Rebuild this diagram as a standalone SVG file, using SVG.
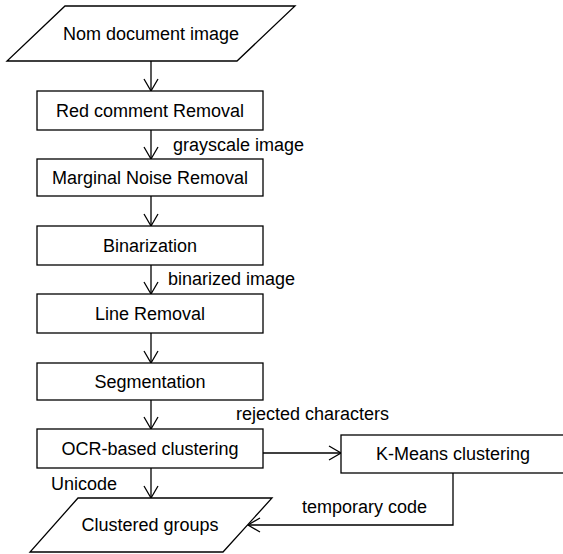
<svg xmlns="http://www.w3.org/2000/svg" width="563" height="554" viewBox="0 0 563 554">
<style>
.s{fill:#fff;stroke:#000;stroke-width:1.3}
.t{font-family:"Liberation Sans",Arial,sans-serif;font-size:18px;fill:#000}
.m{text-anchor:middle}
.c{fill:none;stroke:#000;stroke-width:1.3}
</style>
<defs>
<marker id="a" viewBox="-14 -8 16 16" refX="0" refY="0" markerWidth="16" markerHeight="16" markerUnits="userSpaceOnUse" orient="auto">
<path d="M-12,-7 L0,0 L-12,7" fill="none" stroke="#000" stroke-width="1.3"/>
</marker>
</defs>
<rect width="563" height="554" fill="#fff"/>
<g id="connectors">
<line class="c" x1="151" y1="61" x2="151" y2="91" marker-end="url(#a)"/>
<line class="c" x1="151" y1="130" x2="151" y2="159" marker-end="url(#a)"/>
<line class="c" x1="151" y1="196" x2="151" y2="226" marker-end="url(#a)"/>
<line class="c" x1="151" y1="265" x2="151" y2="294" marker-end="url(#a)"/>
<line class="c" x1="151" y1="333" x2="151" y2="363" marker-end="url(#a)"/>
<line class="c" x1="151" y1="400" x2="151" y2="429" marker-end="url(#a)"/>
<line class="c" x1="151" y1="468" x2="151" y2="498" marker-end="url(#a)"/>
<line class="c" x1="263" y1="453" x2="341" y2="453" marker-end="url(#a)"/>
<polyline class="c" points="453,473 453,525 248,525" marker-end="url(#a)"/>
<text class="t" x="173" y="151">grayscale image</text>
<text class="t" x="168" y="285">binarized image</text>
<text class="t" x="236" y="420">rejected characters</text>
<text class="t" x="51" y="490">Unicode</text>
<text class="t" x="302" y="513">temporary code</text>
</g>
<g id="input">
<polygon class="s" points="65,6 295,6 237,61 7,61"/>
<text class="t m" x="151" y="40">Nom document image</text>
</g>
<g id="red">
<rect class="s" x="37" y="91" width="226" height="39"/>
<text class="t m" x="150" y="117">Red comment Removal</text>
</g>
<g id="marginal">
<rect class="s" x="37" y="159" width="226" height="37"/>
<text class="t m" x="150" y="184">Marginal Noise Removal</text>
</g>
<g id="binarization">
<rect class="s" x="37" y="226" width="226" height="39"/>
<text class="t m" x="150" y="252">Binarization</text>
</g>
<g id="line">
<rect class="s" x="37" y="294" width="226" height="39"/>
<text class="t m" x="150" y="320">Line Removal</text>
</g>
<g id="segmentation">
<rect class="s" x="37" y="363" width="226" height="37"/>
<text class="t m" x="150" y="388">Segmentation</text>
</g>
<g id="ocr">
<rect class="s" x="37" y="429" width="226" height="39"/>
<text class="t m" x="150" y="455">OCR-based clustering</text>
</g>
<g id="kmeans">
<rect class="s" x="341" y="435" width="235" height="38"/>
<text class="t m" x="453" y="460">K-Means clustering</text>
</g>
<g id="output">
<polygon class="s" points="78,498 272,498 223,552 30,552"/>
<text class="t m" x="150" y="531">Clustered groups</text>
</g>
</svg>
